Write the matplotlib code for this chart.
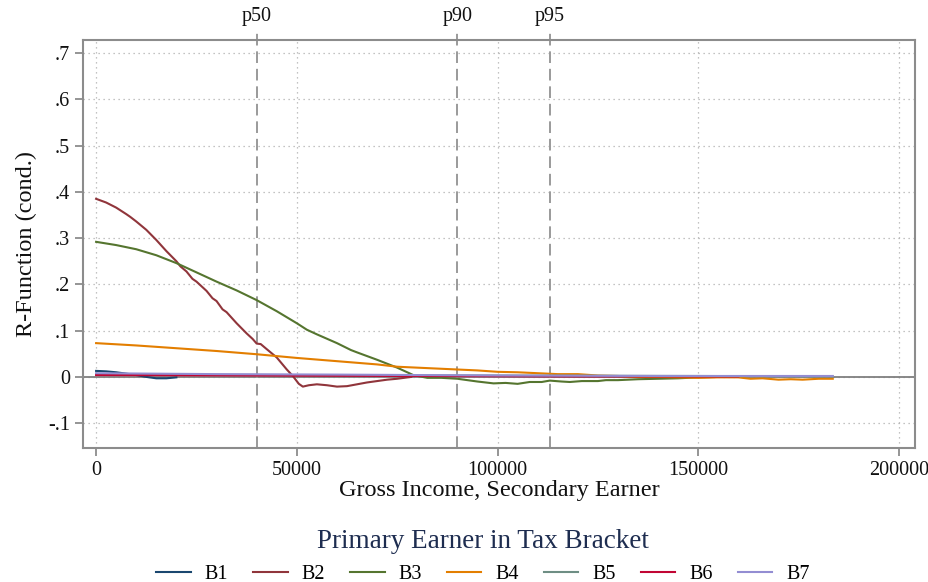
import matplotlib
matplotlib.use("Agg")
import matplotlib.pyplot as plt

plt.rcParams['font.family'] = ['Liberation Serif', 'DejaVu Serif']

# Values
b1_x = [0, 2500, 5000, 7500, 10000, 12500, 15000, 17500, 20000]
b1_y = [0.013, 0.012, 0.010, 0.007, 0.004, 0.000, -0.003, -0.003, -0.001]

b2_x = [0, 2500, 5000, 7500, 8500, 10000, 12500, 15000, 17500, 20000, 21000, 22500,
        24000, 25000, 27500, 29000, 30000, 31500, 32500, 35000, 37500, 39000, 40000,
        41000, 42500, 45000, 47500, 49000, 50500, 51500, 53000, 55000, 57500, 60000,
        62500, 65000, 67500, 70000, 72500, 75000, 78500]
b2_y = [0.385, 0.377, 0.366, 0.352, 0.346, 0.336, 0.318, 0.296, 0.272, 0.250, 0.239, 0.228,
        0.212, 0.206, 0.186, 0.170, 0.164, 0.146, 0.140, 0.116, 0.094, 0.082, 0.072,
        0.071, 0.060, 0.042, 0.016, 0.002, -0.015, -0.021, -0.018, -0.016, -0.018, -0.021,
        -0.020, -0.016, -0.012, -0.009, -0.006, -0.004, 0.000]

b3_x = [0, 5000, 10000, 15000, 20000, 25000, 30000, 35000, 40000, 45000, 50000, 52500,
        55000, 60000, 63500, 65000, 70000, 75000, 79000, 82500, 86000, 90000, 92500, 95000,
        99000, 102000, 105000, 108000, 111000, 113000, 116000, 118000, 121000, 125000, 127000,
        130000, 135000, 140000, 145000, 150000, 155000]
b3_y = [0.292, 0.285, 0.276, 0.263, 0.246, 0.226, 0.206, 0.187, 0.166, 0.142, 0.116, 0.102,
        0.092, 0.073, 0.058, 0.053, 0.037, 0.020, 0.004, -0.002, -0.002, -0.004, -0.007, -0.010,
        -0.014, -0.013, -0.015, -0.011, -0.011, -0.008, -0.010, -0.011, -0.009, -0.009, -0.007,
        -0.007, -0.005, -0.004, -0.003, -0.001, 0.000]

b4_x = [0, 10000, 20000, 30000, 40000, 50000, 60000, 70000, 75000, 80000, 85000, 90000,
        95000, 100000, 105000, 110000, 115000, 120000, 125000, 130000, 135000, 140000,
        145000, 150000, 155000, 160000, 163000, 166000, 170000, 173000, 176000, 180000, 183500]
b4_y = [0.073, 0.068, 0.062, 0.056, 0.049, 0.041, 0.034, 0.027, 0.022, 0.020, 0.018, 0.016,
        0.014, 0.011, 0.010, 0.008, 0.006, 0.006, 0.003, 0.002, 0.000, 0.000,
        -0.001, -0.002, -0.001, -0.001, -0.004, -0.003, -0.006, -0.005, -0.006, -0.004, -0.004]

b5_x = [0, 50000, 100000, 150000, 183500]
b5_y = [0.005, 0.004, 0.003, 0.002, 0.001]

b6_x = [0, 40000, 80000, 120000, 160000]
b6_y = [0.004, 0.003, 0.002, 0.001, 0.001]

b7_x = [0, 30000, 60000, 100000, 140000, 183500]
b7_y = [0.008, 0.006, 0.005, 0.003, 0.002, 0.002]

labels = ['B1', 'B2', 'B3', 'B4', 'B5', 'B6', 'B7']
colors = ['#1a476f', '#90353b', '#55752f', '#e37e00', '#6e8e84', '#c10534', '#938dd2']

pctl_x = [40000, 90000, 113000]
pctl_labels = ['p50', 'p90', 'p95']

fig = plt.figure(figsize=(9.29, 5.82), dpi=100)
ax = fig.add_axes([0.0894, 0.23, 0.8956, 0.701])

series = [(b1_x, b1_y), (b2_x, b2_y), (b3_x, b3_y), (b4_x, b4_y),
          (b5_x, b5_y), (b6_x, b6_y), (b7_x, b7_y)]

ax.axhline(0, color='#7f7f7f', lw=1.3, zorder=1)
for (xs, ys), c, lab in zip(series, colors, labels):
    ax.plot(xs, ys, color=c, lw=1.5, label=lab, zorder=3)

ax.set_xlim(-3250, 204000)
ax.set_ylim(-0.154, 0.728)
ax.set_xticks([0, 50000, 100000, 150000, 200000])
ax.set_xticklabels(['0', '50000', '100000', '150000', '200000'])
yt = [-0.1, 0, 0.1, 0.2, 0.3, 0.4, 0.5, 0.6, 0.7]
ax.set_yticks(yt)
ax.set_yticklabels(['-.1', '0', '.1', '.2', '.3', '.4', '.5', '.6', '.7'])
ax.grid(True, linestyle=(0, (1, 3)), color='#b0b0b0', lw=0.9)
ax.set_axisbelow(True)

for s in ax.spines.values():
    s.set_color('#8c8c8c')
    s.set_linewidth(1.5)
ax.tick_params(axis='both', colors='#8c8c8c', labelcolor='#111111', labelsize=14.5,
               length=6, width=1.3)

for xv, lab in zip(pctl_x, pctl_labels):
    ax.axvline(xv, ymin=0, ymax=1.022, color='#9a9a9a', lw=1.4, ls=(0, (6, 3)),
               clip_on=False, zorder=2)
    ax.text(xv, 0.758, lab, ha='center', va='bottom', fontsize=14.5,
            color='#111111')

ax.set_xlabel('Gross Income, Secondary Earner', fontsize=17.5, labelpad=0, color='#111111')
ax.set_ylabel('R-Function (cond.)', fontsize=17.5, labelpad=8, color='#111111')

leg = fig.legend(loc='lower center', bbox_to_anchor=(0.52, -0.034), ncol=7, frameon=False,
                 title='Primary Earner in Tax Bracket', title_fontsize=19.5, fontsize=14.5,
                 handlelength=1.7, handletextpad=0.7, columnspacing=1.25)
leg.get_title().set_color('#1e2d50')

fig.savefig('out.png', dpi=100)
